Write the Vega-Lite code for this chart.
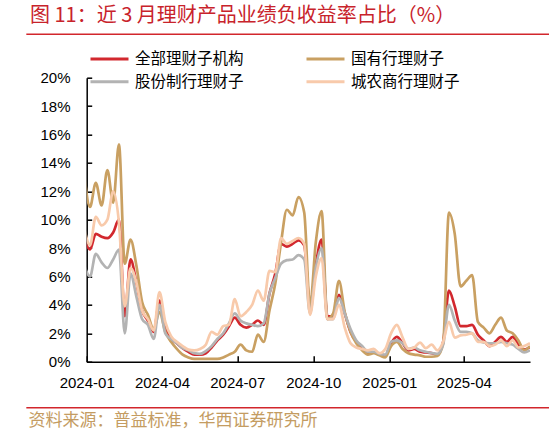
{
  "$schema": "https://vega.github.io/schema/vega-lite/v6.json",
  "autosize": {"type": "none"},
  "padding": {"left": 86.7, "top": 77.7, "right": 19, "bottom": 72.3},
  "width": 443.3,
  "height": 284,
  "background": "white",
  "title": {
    "text": "图 11：近 3 月理财产品业绩负收益率占比（%）",
    "anchor": "start",
    "frame": "group",
    "dx": -56.7,
    "offset": 7,
    "fontSize": 20,
    "font": "Noto Sans CJK SC",
    "fontWeight": "normal",
    "color": "#C8232B"
  },
  "config": {
    "view": {"stroke": null},
    "axis": {"grid": false},
    "axisY": {"labelOverlap": false},
    "axisX": {"labelOverlap": false}
  },
  "layer": [
    {
      "data": {"values": [
        {"date": "2023-12-29T00:00:00", "全部理财子机构": 8.6, "国有行理财子": 13.2, "股份制行理财子": 6.8, "城农商行理财子": 9.4},
        {"date": "2024-01-05T00:00:00", "全部理财子机构": 7.9, "国有行理财子": 10.9, "股份制行理财子": 6.0, "城农商行理财子": 8.2},
        {"date": "2024-01-12T00:00:00", "全部理财子机构": 9.0, "国有行理财子": 12.6, "股份制行理财子": 7.6, "城农商行理财子": 10.2},
        {"date": "2024-01-19T00:00:00", "全部理财子机构": 8.8, "国有行理财子": 11.0, "股份制行理财子": 7.0, "城农商行理财子": 9.6},
        {"date": "2024-01-26T00:00:00", "全部理财子机构": 8.7, "国有行理财子": 13.5, "股份制行理财子": 6.6, "城农商行理财子": 10.0},
        {"date": "2024-02-02T00:00:00", "全部理财子机构": 9.1, "国有行理财子": 11.2, "股份制行理财子": 7.2, "城农商行理财子": 12.0},
        {"date": "2024-02-09T00:00:00", "全部理财子机构": 10.0, "国有行理财子": 15.3, "股份制行理财子": 7.9, "城农商行理财子": 9.8},
        {"date": "2024-02-16T00:00:00", "全部理财子机构": 3.2, "国有行理财子": 6.9, "股份制行理财子": 2.0, "城农商行理财子": 3.9},
        {"date": "2024-02-23T00:00:00", "全部理财子机构": 7.2, "国有行理财子": 8.6, "股份制行理财子": 6.2, "城农商行理财子": 6.6},
        {"date": "2024-03-01T00:00:00", "全部理财子机构": 5.6, "国有行理财子": 6.8, "股份制行理财子": 4.6, "城农商行理财子": 5.6},
        {"date": "2024-03-08T00:00:00", "全部理财子机构": 3.6, "国有行理财子": 4.2, "股份制行理财子": 3.0, "城农商行理财子": 3.6},
        {"date": "2024-03-15T00:00:00", "全部理财子机构": 2.9, "国有行理财子": 3.3, "股份制行理财子": 2.6, "城农商行理财子": 3.0},
        {"date": "2024-03-22T00:00:00", "全部理财子机构": 2.1, "国有行理财子": 2.3, "股份制行理财子": 1.6, "城农商行理财子": 2.2},
        {"date": "2024-03-29T00:00:00", "全部理财子机构": 4.3, "国有行理财子": 3.5, "股份制行理财子": 4.0, "城农商行理财子": 4.9},
        {"date": "2024-04-05T00:00:00", "全部理财子机构": 2.4, "国有行理财子": 2.1, "股份制行理财子": 2.0, "城农商行理财子": 2.8},
        {"date": "2024-04-12T00:00:00", "全部理财子机构": 1.65, "国有行理财子": 1.4, "股份制行理财子": 1.6, "城农商行理财子": 1.8},
        {"date": "2024-04-19T00:00:00", "全部理财子机构": 1.3, "国有行理财子": 0.9, "股份制行理财子": 1.3, "城农商行理财子": 1.4},
        {"date": "2024-04-26T00:00:00", "全部理财子机构": 0.95, "国有行理财子": 0.5, "股份制行理财子": 0.95, "城农商行理财子": 1.1},
        {"date": "2024-05-03T00:00:00", "全部理财子机构": 0.7, "国有行理财子": 0.3, "股份制行理财子": 0.8, "城农商行理财子": 0.85},
        {"date": "2024-05-10T00:00:00", "全部理财子机构": 0.5, "国有行理财子": 0.2, "股份制行理财子": 0.6, "城农商行理财子": 0.8},
        {"date": "2024-05-17T00:00:00", "全部理财子机构": 0.5, "国有行理财子": 0.2, "股份制行理财子": 0.55, "城农商行理财子": 0.9},
        {"date": "2024-05-24T00:00:00", "全部理财子机构": 0.6, "国有行理财子": 0.2, "股份制行理财子": 0.75, "城农商行理财子": 1.2},
        {"date": "2024-05-31T00:00:00", "全部理财子机构": 1.0, "国有行理财子": 0.2, "股份制行理财子": 1.1, "城农商行理财子": 2.1},
        {"date": "2024-06-07T00:00:00", "全部理财子机构": 1.5, "国有行理财子": 0.2, "股份制行理财子": 1.6, "城农商行理财子": 1.9},
        {"date": "2024-06-14T00:00:00", "全部理财子机构": 1.9, "国有行理财子": 0.3, "股份制行理财子": 2.0, "城农商行理财子": 2.5},
        {"date": "2024-06-21T00:00:00", "全部理财子机构": 2.5, "国有行理财子": 0.5, "股份制行理财子": 2.7, "城农商行理财子": 2.6},
        {"date": "2024-06-28T00:00:00", "全部理财子机构": 3.1, "国有行理财子": 0.7, "股份制行理财子": 3.4, "城农商行理财子": 4.4},
        {"date": "2024-07-05T00:00:00", "全部理财子机构": 2.6, "国有行理财子": 1.2, "股份制行理财子": 2.9, "城农商行理财子": 3.2},
        {"date": "2024-07-12T00:00:00", "全部理财子机构": 2.4, "国有行理财子": 0.8, "股份制行理财子": 2.7, "城农商行理财子": 3.5},
        {"date": "2024-07-19T00:00:00", "全部理财子机构": 2.6, "国有行理财子": 0.7, "股份制行理财子": 2.6, "城农商行理财子": 4.0},
        {"date": "2024-07-26T00:00:00", "全部理财子机构": 2.9, "国有行理财子": 1.9, "股份制行理财子": 2.5, "城农商行理财子": 5.0},
        {"date": "2024-08-02T00:00:00", "全部理财子机构": 2.6, "国有行理财子": 1.4, "股份制行理财子": 2.7, "城农商行理财子": 4.3},
        {"date": "2024-08-09T00:00:00", "全部理财子机构": 4.8, "国有行理财子": 3.6, "股份制行理财子": 4.8, "城农商行理财子": 6.4},
        {"date": "2024-08-16T00:00:00", "全部理财子机构": 6.2, "国有行理财子": 5.5, "股份制行理财子": 5.9, "城农商行理财子": 6.3},
        {"date": "2024-08-23T00:00:00", "全部理财子机构": 8.3, "国有行理财子": 8.4, "股份制行理财子": 6.9, "城农商行理财子": 8.7},
        {"date": "2024-08-30T00:00:00", "全部理财子机构": 8.1, "国有行理财子": 10.7, "股份制行理财子": 7.15, "城农商行理财子": 8.3},
        {"date": "2024-09-06T00:00:00", "全部理财子机构": 8.3, "国有行理财子": 10.3, "股份制行理财子": 7.2, "城农商行理财子": 8.5},
        {"date": "2024-09-13T00:00:00", "全部理财子机构": 8.55, "国有行理财子": 11.6, "股份制行理财子": 7.5, "城农商行理财子": 8.7},
        {"date": "2024-09-20T00:00:00", "全部理财子机构": 8.2, "国有行理财子": 10.5, "股份制行理财子": 7.2, "城农商行理财子": 8.3},
        {"date": "2024-09-27T00:00:00", "全部理财子机构": 3.9, "国有行理财子": 3.9, "股份制行理财子": 3.4, "城农商行理财子": 3.3},
        {"date": "2024-10-04T00:00:00", "全部理财子机构": 6.8, "国有行理财子": 8.4, "股份制行理财子": 6.6, "城农商行理财子": 6.0},
        {"date": "2024-10-11T00:00:00", "全部理财子机构": 8.6, "国有行理财子": 10.6, "股份制行理财子": 8.0, "城农商行理财子": 7.3},
        {"date": "2024-10-18T00:00:00", "全部理财子机构": 3.2, "国有行理财子": 3.0, "股份制行理财子": 3.0, "城农商行理财子": 3.0},
        {"date": "2024-10-25T00:00:00", "全部理财子机构": 3.2, "国有行理财子": 3.4, "股份制行理财子": 3.0, "城农商行理财子": 3.0},
        {"date": "2024-11-01T00:00:00", "全部理财子机构": 4.7, "国有行理财子": 5.7, "股份制行理财子": 4.5, "城农商行理财子": 4.0},
        {"date": "2024-11-08T00:00:00", "全部理财子机构": 3.4, "国有行理财子": 3.5, "股份制行理财子": 3.4, "城农商行理财子": 2.4},
        {"date": "2024-11-15T00:00:00", "全部理财子机构": 2.1, "国有行理财子": 2.1, "股份制行理财子": 2.3, "城农商行理财子": 1.3},
        {"date": "2024-11-22T00:00:00", "全部理财子机构": 1.4, "国有行理财子": 1.3, "股份制行理财子": 1.5, "城农商行理财子": 1.0},
        {"date": "2024-11-29T00:00:00", "全部理财子机构": 1.0, "国有行理财子": 0.8, "股份制行理财子": 1.1, "城农商行理财子": 0.9},
        {"date": "2024-12-06T00:00:00", "全部理财子机构": 0.6, "国有行理财子": 0.5, "股份制行理财子": 0.7, "城农商行理财子": 0.8},
        {"date": "2024-12-13T00:00:00", "全部理财子机构": 0.65, "国有行理财子": 0.6, "股份制行理财子": 0.7, "城农商行理财子": 0.9},
        {"date": "2024-12-20T00:00:00", "全部理财子机构": 0.5, "国有行理财子": 0.45, "股份制行理财子": 0.55, "城农商行理财子": 0.6},
        {"date": "2024-12-27T00:00:00", "全部理财子机构": 0.4, "国有行理财子": 0.3, "股份制行理财子": 0.5, "城农商行理财子": 0.9},
        {"date": "2025-01-03T00:00:00", "全部理财子机构": 1.3, "国有行理财子": 1.1, "股份制行理财子": 1.4, "城农商行理财子": 2.0},
        {"date": "2025-01-10T00:00:00", "全部理财子机构": 1.75, "国有行理财子": 1.4, "股份制行理财子": 1.5, "城农商行理财子": 2.6},
        {"date": "2025-01-17T00:00:00", "全部理财子机构": 1.3, "国有行理财子": 0.9, "股份制行理财子": 1.3, "城农商行理财子": 1.7},
        {"date": "2025-01-24T00:00:00", "全部理财子机构": 0.8, "国有行理财子": 0.6, "股份制行理财子": 0.9, "城农商行理财子": 0.9},
        {"date": "2025-01-31T00:00:00", "全部理财子机构": 0.9, "国有行理财子": 0.5, "股份制行理财子": 1.0, "城农商行理财子": 1.0},
        {"date": "2025-02-07T00:00:00", "全部理财子机构": 0.7, "国有行理财子": 0.45, "股份制行理财子": 0.8, "城农商行理财子": 1.35},
        {"date": "2025-02-14T00:00:00", "全部理财子机构": 0.65, "国有行理财子": 0.35, "股份制行理财子": 0.7, "城农商行理财子": 0.95},
        {"date": "2025-02-21T00:00:00", "全部理财子机构": 0.6, "国有行理财子": 0.35, "股份制行理财子": 0.6, "城农商行理财子": 1.2},
        {"date": "2025-02-28T00:00:00", "全部理财子机构": 0.5, "国有行理财子": 0.4, "股份制行理财子": 0.55, "城农商行理财子": 0.8},
        {"date": "2025-03-07T00:00:00", "全部理财子机构": 1.4, "国有行理财子": 1.3, "股份制行理财子": 1.2, "城农商行理财子": 1.4},
        {"date": "2025-03-14T00:00:00", "全部理财子机构": 5.0, "国有行理财子": 10.5, "股份制行理财子": 4.0, "城农商行理财子": 2.8},
        {"date": "2025-03-21T00:00:00", "全部理财子机构": 3.9, "国有行理财子": 9.0, "股份制行理财子": 2.9, "城农商行理财子": 1.7},
        {"date": "2025-03-28T00:00:00", "全部理财子机构": 2.5, "国有行理财子": 5.3, "股份制行理财子": 2.1, "城农商行理财子": 1.85},
        {"date": "2025-04-04T00:00:00", "全部理财子机构": 2.5, "国有行理财子": 5.7, "股份制行理财子": 2.1, "城农商行理财子": 1.9},
        {"date": "2025-04-11T00:00:00", "全部理财子机构": 2.6, "国有行理财子": 6.1, "股份制行理财子": 2.0, "城农商行理财子": 2.0},
        {"date": "2025-04-18T00:00:00", "全部理财子机构": 1.9, "国有行理财子": 2.8, "股份制行理财子": 1.5, "城农商行理财子": 1.4},
        {"date": "2025-04-25T00:00:00", "全部理财子机构": 1.5, "国有行理财子": 2.4, "股份制行理财子": 1.35, "城农商行理财子": 1.4},
        {"date": "2025-05-02T00:00:00", "全部理财子机构": 1.1, "国有行理财子": 2.0, "股份制行理财子": 1.3, "城农商行理财子": 1.1},
        {"date": "2025-05-09T00:00:00", "全部理财子机构": 1.4, "国有行理财子": 2.6, "股份制行理财子": 1.3, "城农商行理财子": 1.2},
        {"date": "2025-05-16T00:00:00", "全部理财子机构": 1.75, "国有行理财子": 3.1, "股份制行理财子": 1.4, "城农商行理财子": 1.5},
        {"date": "2025-05-23T00:00:00", "全部理财子机构": 1.4, "国有行理财子": 2.2, "股份制行理财子": 1.3, "城农商行理财子": 1.1},
        {"date": "2025-05-30T00:00:00", "全部理财子机构": 1.75, "国有行理财子": 2.0, "股份制行理财子": 1.2, "城农商行理财子": 1.5},
        {"date": "2025-06-06T00:00:00", "全部理财子机构": 1.2, "国有行理财子": 1.5, "股份制行理财子": 0.9, "城农商行理财子": 1.0},
        {"date": "2025-06-13T00:00:00", "全部理财子机构": 0.85, "国有行理财子": 0.8, "股份制行理财子": 0.65, "城农商行理财子": 1.1},
        {"date": "2025-06-20T00:00:00", "全部理财子机构": 1.05, "国有行理财子": 1.1, "股份制行理财子": 0.8, "城农商行理财子": 1.3}
      ]},
      "transform": [
        {"fold": ["全部理财子机构", "国有行理财子", "股份制行理财子", "城农商行理财子"], "as": ["series", "value"]}
      ],
      "mark": {"type": "line", "interpolate": "monotone", "strokeWidth": 2.7, "clip": true},
      "encoding": {
        "x": {
          "field": "date",
          "type": "temporal",
          "scale": {"domain": [{"year": 2024, "month": 1, "date": 1}, {"year": 2025, "month": 6, "date": 20}]},
          "axis": {
            "values": [
              {"year": 2024, "month": 1, "date": 1},
              {"year": 2024, "month": 4, "date": 1},
              {"year": 2024, "month": 7, "date": 1},
              {"year": 2024, "month": 10, "date": 1},
              {"year": 2025, "month": 1, "date": 1},
              {"year": 2025, "month": 4, "date": 1}
            ],
            "format": "%Y-%m",
            "labelFont": "Liberation Sans",
            "labelFontSize": 15,
            "labelColor": "#000000",
            "labelPadding": 19.5,
            "labelFlush": false,
            "labelOverlap": false,
            "tickSize": -6,
            "tickWidth": 1.5,
            "tickColor": "#000000",
            "domainColor": "#000000",
            "domainWidth": 1.5,
            "title": "资料来源：普益标准，华西证券研究所",
            "titleFont": "Noto Sans CJK SC",
            "titleFontSize": 17,
            "titleFontWeight": "normal",
            "titleColor": "#C49C62",
            "titleAlign": "left",
            "titleBaseline": "middle",
            "titleX": -58.7,
            "titleY": 59
          }
        },
        "y": {
          "field": "value",
          "type": "quantitative",
          "scale": {"domain": [0, 20], "nice": false, "zero": true},
          "axis": {
            "values": [0, 2, 4, 6, 8, 10, 12, 14, 16, 18, 20],
            "labelExpr": "datum.value + '%'",
            "labelFont": "Liberation Sans",
            "labelFontSize": 15,
            "labelColor": "#000000",
            "labelPadding": 21.7,
            "labelOverlap": false,
            "tickSize": -5,
            "tickWidth": 1.5,
            "tickColor": "#000000",
            "domainColor": "#000000",
            "domainWidth": 1.5,
            "title": null
          }
        },
        "color": {
          "field": "series",
          "type": "nominal",
          "sort": ["全部理财子机构", "国有行理财子", "股份制行理财子", "城农商行理财子"],
          "scale": {
            "domain": ["全部理财子机构", "国有行理财子", "股份制行理财子", "城农商行理财子"],
            "range": ["#D2282E", "#C9A062", "#B3B3B3", "#F8CAAB"]
          },
          "legend": {
            "orient": "none",
            "direction": "horizontal",
            "legendX": 11.8,
            "legendY": -30,
            "columns": 2,
            "title": null,
            "symbolType": "M-2,0H2",
            "symbolSize": 361,
            "symbolStrokeWidth": 3,
            "labelFont": "Noto Sans CJK SC",
            "labelFontSize": 15.5,
            "labelColor": "#000000",
            "labelOffset": 14.5,
            "columnPadding": 56,
            "rowPadding": 3,
            "labelLimit": 300
          }
        }
      }
    },
    {
      "data": {"values": [{}]},
      "mark": {"type": "rule", "color": "#D2262C", "strokeWidth": 1.5},
      "encoding": {
        "x": {"datum": {"year": 2023, "month": 10, "date": 20}, "type": "temporal",
          "axis": {
            "values": [
              {"year": 2024, "month": 1, "date": 1},
              {"year": 2024, "month": 4, "date": 1},
              {"year": 2024, "month": 7, "date": 1},
              {"year": 2024, "month": 10, "date": 1},
              {"year": 2025, "month": 1, "date": 1},
              {"year": 2025, "month": 4, "date": 1}
            ],
            "format": "%Y-%m",
            "labelFont": "Liberation Sans",
            "labelFontSize": 15,
            "labelColor": "#000000",
            "labelPadding": 19.5,
            "labelFlush": false,
            "labelOverlap": false,
            "tickSize": -6,
            "tickWidth": 1.5,
            "tickColor": "#000000",
            "domainColor": "#000000",
            "domainWidth": 1.5,
            "title": "资料来源：普益标准，华西证券研究所",
            "titleFont": "Noto Sans CJK SC",
            "titleFontSize": 17,
            "titleFontWeight": "normal",
            "titleColor": "#C49C62",
            "titleAlign": "left",
            "titleBaseline": "middle",
            "titleX": -58.7,
            "titleY": 59
          }
        },
        "x2": {"datum": {"year": 2025, "month": 7, "date": 15}},
        "y": {"datum": 23.06, "type": "quantitative",
          "axis": {
            "values": [0, 2, 4, 6, 8, 10, 12, 14, 16, 18, 20],
            "labelExpr": "datum.value + '%'",
            "labelFont": "Liberation Sans",
            "labelFontSize": 15,
            "labelColor": "#000000",
            "labelPadding": 21.7,
            "labelOverlap": false,
            "tickSize": -5,
            "tickWidth": 1.5,
            "tickColor": "#000000",
            "domainColor": "#000000",
            "domainWidth": 1.5,
            "title": null
          }
        }
      }
    },
    {
      "data": {"values": [{}]},
      "mark": {"type": "rule", "color": "#D2262C", "strokeWidth": 1.5},
      "encoding": {
        "x": {"datum": {"year": 2023, "month": 10, "date": 20}, "type": "temporal",
          "axis": {
            "values": [
              {"year": 2024, "month": 1, "date": 1},
              {"year": 2024, "month": 4, "date": 1},
              {"year": 2024, "month": 7, "date": 1},
              {"year": 2024, "month": 10, "date": 1},
              {"year": 2025, "month": 1, "date": 1},
              {"year": 2025, "month": 4, "date": 1}
            ],
            "format": "%Y-%m",
            "labelFont": "Liberation Sans",
            "labelFontSize": 15,
            "labelColor": "#000000",
            "labelPadding": 19.5,
            "labelFlush": false,
            "labelOverlap": false,
            "tickSize": -6,
            "tickWidth": 1.5,
            "tickColor": "#000000",
            "domainColor": "#000000",
            "domainWidth": 1.5,
            "title": "资料来源：普益标准，华西证券研究所",
            "titleFont": "Noto Sans CJK SC",
            "titleFontSize": 17,
            "titleFontWeight": "normal",
            "titleColor": "#C49C62",
            "titleAlign": "left",
            "titleBaseline": "middle",
            "titleX": -58.7,
            "titleY": 59
          }
        },
        "x2": {"datum": {"year": 2025, "month": 7, "date": 15}},
        "y": {"datum": -3.24, "type": "quantitative",
          "axis": {
            "values": [0, 2, 4, 6, 8, 10, 12, 14, 16, 18, 20],
            "labelExpr": "datum.value + '%'",
            "labelFont": "Liberation Sans",
            "labelFontSize": 15,
            "labelColor": "#000000",
            "labelPadding": 21.7,
            "labelOverlap": false,
            "tickSize": -5,
            "tickWidth": 1.5,
            "tickColor": "#000000",
            "domainColor": "#000000",
            "domainWidth": 1.5,
            "title": null
          }
        }
      }
    }
  ]
}
